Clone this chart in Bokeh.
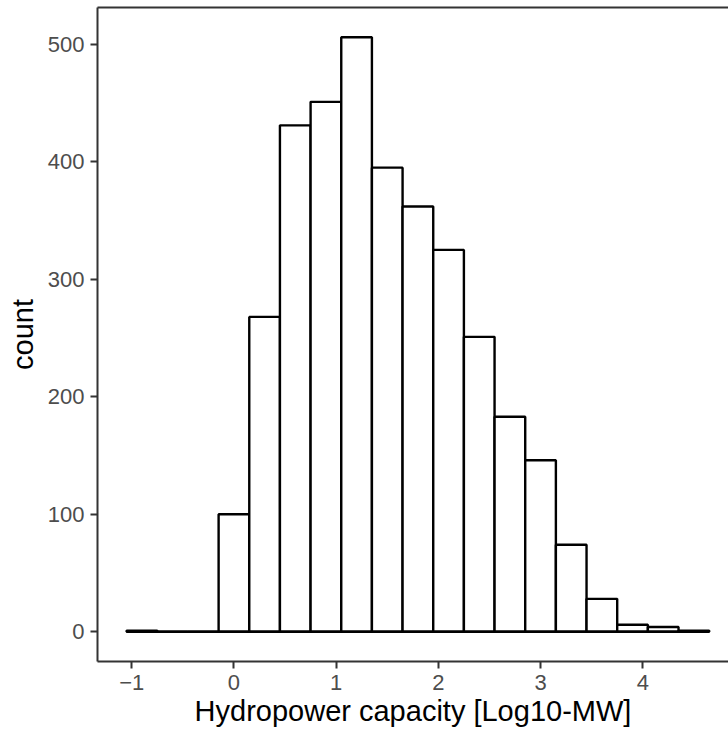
from bokeh.plotting import figure
from bokeh.models import Range1d, LinearAxis, FixedTicker, ColumnDataSource
from bokeh.embed import file_html
from bokeh.resources import INLINE

# Histogram data (bin centres, Log10-MW; counts)
bin_centers = [-0.9, -0.6, -0.3, 0.0, 0.3, 0.6, 0.9, 1.2, 1.5, 1.8, 2.1, 2.4,
               2.7, 3.0, 3.3, 3.6, 3.9, 4.2, 4.5]
counts = [1, 0, 0, 100, 268, 431, 451, 506, 395, 362, 325, 251,
          183, 146, 74, 28, 6, 4, 1]
bin_width = 0.3
x_ticks = [-1, 0, 1, 2, 3, 4]
y_ticks = [0, 100, 200, 300, 400, 500]

lefts = [c - bin_width / 2 for c in bin_centers]
rights = [c + bin_width / 2 for c in bin_centers]
src = ColumnDataSource(dict(left=lefts, right=rights, top=counts,
                            bottom=[0] * len(counts)))

p = figure(width=728, height=738, output_backend="svg", toolbar_location=None,
           x_range=Range1d(-1.335, 4.839), y_range=Range1d(-25.3, 531.3),
           min_border_left=97, min_border_right=0, min_border_top=7,
           min_border_bottom=77, x_axis_label="Hydropower capacity [Log10-MW]",
           y_axis_label="count")
p.outline_line_color = None
p.xgrid.visible = False
p.ygrid.visible = False
p.background_fill_color = "white"
p.border_fill_color = "white"

p.quad(left="left", right="right", top="top", bottom="bottom", source=src,
       fill_color="white", line_color="black", line_width=2.4)
# baseline of the zero-height bins
p.segment(x0=[lefts[0]], y0=[0], x1=[rights[-1]], y1=[0],
          line_color="black", line_width=2.4)

for ax, ticks in ((p.xaxis[0], x_ticks), (p.yaxis[0], y_ticks)):
    ax.ticker = FixedTicker(ticks=ticks)
    ax.minor_tick_line_color = None
    ax.major_tick_in = 0
    ax.major_tick_out = 7
    ax.major_tick_line_color = "#333333"
    ax.major_tick_line_width = 2
    ax.axis_line_color = "#333333"
    ax.axis_line_width = 2
    ax.major_label_text_font = "Liberation Sans"
    ax.major_label_text_font_size = "22px"
    ax.major_label_text_color = "#4D4D4D"
    ax.major_label_standoff = 6
    ax.axis_label_text_font = "Liberation Sans"
    ax.axis_label_text_font_size = "29px"
    ax.axis_label_text_font_style = "normal"
    ax.axis_label_text_color = "black"

p.xaxis[0].axis_label_standoff = 2
p.yaxis[0].axis_label_standoff = 6

top_axis = LinearAxis(ticker=FixedTicker(ticks=[]), major_tick_out=0,
                      major_tick_in=0, minor_tick_out=0, minor_tick_in=0,
                      major_label_standoff=0, axis_label_standoff=0,
                      major_label_text_font_size="0px",
                      axis_line_color="#333333", axis_line_width=2)
p.add_layout(top_axis, "above")

open("out.html", "w").write(file_html(p, INLINE))
